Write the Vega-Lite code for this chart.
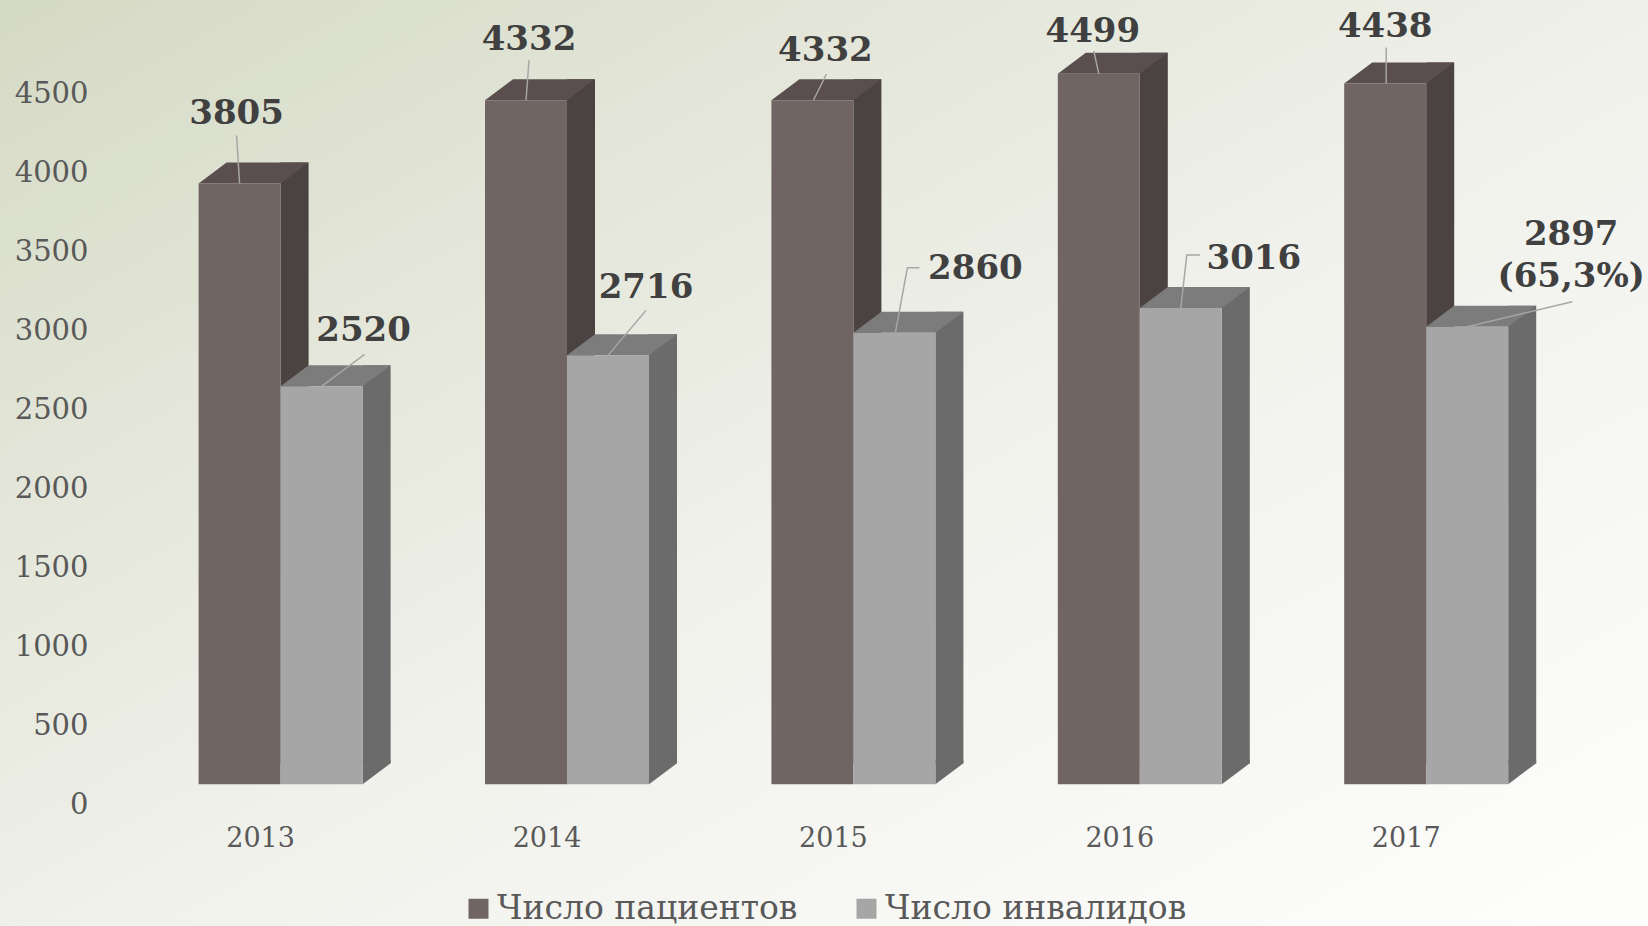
{
"$schema":"https://vega.github.io/schema/vega-lite/v6.json",
"width":1648,"height":926,"padding":0,"autosize":{"type":"none"},
"background":"#f4f5ef",
"view":{"stroke":null,"fill":{"gradient":"linear","x1":0,"y1":0,"x2":1,"y2":1,"stops":[{"offset":0,"color":"#d5dac4"},{"offset":0.25,"color":"#e2e5d7"},{"offset":0.55,"color":"#f1f2ec"},{"offset":1,"color":"#fefefd"}]}},
"config":{"font":"DejaVu Serif"},
"data":{"values":[
{"year":"2013","series":"Число пациентов","value":3805,"label":"3805"},
{"year":"2014","series":"Число пациентов","value":4332,"label":"4332"},
{"year":"2015","series":"Число пациентов","value":4332,"label":"4332"},
{"year":"2016","series":"Число пациентов","value":4499,"label":"4499"},
{"year":"2017","series":"Число пациентов","value":4438,"label":"4438"},
{"year":"2013","series":"Число инвалидов","value":2520,"label":"2520"},
{"year":"2014","series":"Число инвалидов","value":2716,"label":"2716"},
{"year":"2015","series":"Число инвалидов","value":2860,"label":"2860"},
{"year":"2016","series":"Число инвалидов","value":3016,"label":"3016"},
{"year":"2017","series":"Число инвалидов","value":2897,"label":"2897\n(65,3%)"}
]},
"encoding":{
"x":{"field":"year","type":"nominal","title":null,"sort":null,"scale":{"type":"band","domain":["2013","2014","2015","2016","2017"],"range":[137.4,1569.4]},
"axis":{"orient":"bottom","offset":-101,"domain":false,"ticks":false,"labelAngle":0,"labelPadding":0,"labelBaseline":"top","labelOffset":-20,"labelFontSize":27,"labelColor":"#595959","labelFont":"DejaVu Serif","grid":false}},
"y":{"field":"value","type":"quantitative","title":null,"scale":{"domain":[0,4500],"range":[784.2,73.7],"nice":false},
"axis":{"orient":"left","offset":-88,"domain":false,"ticks":false,"format":"d","values":[0,500,1000,1500,2000,2500,3000,3500,4000,4500],"labelPadding":0,"labelOffset":20,"labelFontSize":29,"labelColor":"#595959","labelFont":"DejaVu Serif","grid":false}}
},
"layer":[
{"transform":[{"filter":"datum.series==='Число пациентов'"}],"mark":{"type":"bar","width":28,"xOffset":14,"yOffset":-21,"y2Offset":-21,"color":"#4a4342"}},
{"transform":[{"filter":"datum.series==='Число пациентов'"}],"mark":{"type":"point","shape":"M0,0L28,-21L110,-21L82,0Z","size":4,"xOffset":-82,"filled":true,"opacity":1,"strokeWidth":0,"color":"#5a4e4e"}},
{"transform":[{"filter":"datum.series==='Число пациентов'"}],"mark":{"type":"bar","width":82,"xOffset":-41},"encoding":{"color":{"field":"series","type":"nominal","sort":null,"title":null,"scale":{"domain":["Число пациентов","Число инвалидов"],"range":["#716564","#a6a6a6"]},"legend":{"orient":"none","legendX":462,"legendY":892,"direction":"horizontal","columns":2,"symbolType":"square","symbolSize":400,"symbolStrokeWidth":0,"labelFontSize":33,"labelColor":"#595959","labelFont":"DejaVu Serif","labelLimit":400,"columnPadding":52,"labelOffset":2,"symbolOpacity":1}}}},
{"transform":[{"filter":"datum.series==='Число инвалидов'"}],"mark":{"type":"bar","width":28,"xOffset":96,"yOffset":-21,"y2Offset":-21,"color":"#6b6b6b"}},
{"transform":[{"filter":"datum.series==='Число инвалидов'"}],"mark":{"type":"point","shape":"M0,0L28,-21L28,-24L0,-24Z","size":4,"xOffset":82,"filled":true,"opacity":1,"strokeWidth":0,"color":"#6b6b6b"},"encoding":{"y":{"datum":0}}},
{"transform":[{"filter":"datum.series==='Число инвалидов'"}],"mark":{"type":"point","shape":"M0,0L28,-21L110,-21L82,0Z","size":4,"filled":true,"opacity":1,"strokeWidth":0,"color":"#7c7c7c"}},
{"transform":[{"filter":"datum.series==='Число инвалидов'"}],"mark":{"type":"bar","width":82,"xOffset":41},"encoding":{"color":{"field":"series","type":"nominal"}}},
{"transform":[{"filter":"datum.series==='Число пациентов'"}],"mark":{"type":"point","filled":false,"size":4,"opacity":1,"stroke":"#a6a6a6","strokeWidth":1.5},"encoding":{"shape":{"field":"year","type":"nominal","legend":null,"scale":{"domain":["2013","2014","2015","2016","2017"],"range":["M-41,0L-44,-48","M-41,0L-38,-40","M-40,0L-27,-26","M-41,0L-46,-23","M-40,0L-40,-36"]}}}},
{"transform":[{"filter":"datum.series==='Число инвалидов'"}],"mark":{"type":"point","filled":false,"size":4,"opacity":1,"stroke":"#a6a6a6","strokeWidth":1.5},"encoding":{"shape":{"field":"year","type":"nominal","legend":null,"scale":{"domain":["2013","2014","2015","2016","2017"],"range":["M41,0L84,-32","M41,0L79,-45","M42,0L54,-65L66,-65","M41,0L47,-53L60,-53","M41,0L146,-25"]}}}},
{"transform":[{"filter":"datum.series==='Число пациентов' && datum.year==='2013'"}],"mark":{"type":"text","dx":-44,"dy":-69,"fontSize":34,"fontWeight":"bold","color":"#404040","lineBreak":"\n"},"encoding":{"text":{"field":"label"}}},
{"transform":[{"filter":"datum.series==='Число пациентов' && datum.year==='2014'"}],"mark":{"type":"text","dx":-38,"dy":-60,"fontSize":34,"fontWeight":"bold","color":"#404040","lineBreak":"\n"},"encoding":{"text":{"field":"label"}}},
{"transform":[{"filter":"datum.series==='Число пациентов' && datum.year==='2015'"}],"mark":{"type":"text","dx":-28,"dy":-49,"fontSize":34,"fontWeight":"bold","color":"#404040","lineBreak":"\n"},"encoding":{"text":{"field":"label"}}},
{"transform":[{"filter":"datum.series==='Число пациентов' && datum.year==='2016'"}],"mark":{"type":"text","dx":-47,"dy":-42,"fontSize":34,"fontWeight":"bold","color":"#404040","lineBreak":"\n"},"encoding":{"text":{"field":"label"}}},
{"transform":[{"filter":"datum.series==='Число пациентов' && datum.year==='2017'"}],"mark":{"type":"text","dx":-41,"dy":-56,"fontSize":34,"fontWeight":"bold","color":"#404040","lineBreak":"\n"},"encoding":{"text":{"field":"label"}}},
{"transform":[{"filter":"datum.series==='Число инвалидов' && datum.year==='2013'"}],"mark":{"type":"text","dx":83,"dy":-55,"fontSize":34,"fontWeight":"bold","color":"#404040","lineBreak":"\n"},"encoding":{"text":{"field":"label"}}},
{"transform":[{"filter":"datum.series==='Число инвалидов' && datum.year==='2014'"}],"mark":{"type":"text","dx":79,"dy":-67,"fontSize":34,"fontWeight":"bold","color":"#404040","lineBreak":"\n"},"encoding":{"text":{"field":"label"}}},
{"transform":[{"filter":"datum.series==='Число инвалидов' && datum.year==='2015'"}],"mark":{"type":"text","dx":122,"dy":-64,"fontSize":34,"fontWeight":"bold","color":"#404040","lineBreak":"\n"},"encoding":{"text":{"field":"label"}}},
{"transform":[{"filter":"datum.series==='Число инвалидов' && datum.year==='2016'"}],"mark":{"type":"text","dx":114,"dy":-49,"fontSize":34,"fontWeight":"bold","color":"#404040","lineBreak":"\n"},"encoding":{"text":{"field":"label"}}},
{"transform":[{"filter":"datum.series==='Число инвалидов' && datum.year==='2017'"}],"mark":{"type":"text","dx":145,"dy":-92,"fontSize":34,"lineHeight":42,"fontWeight":"bold","color":"#404040","lineBreak":"\n"},"encoding":{"text":{"field":"label"}}}
],
"resolve":{"scale":{"shape":"independent"}}
}
